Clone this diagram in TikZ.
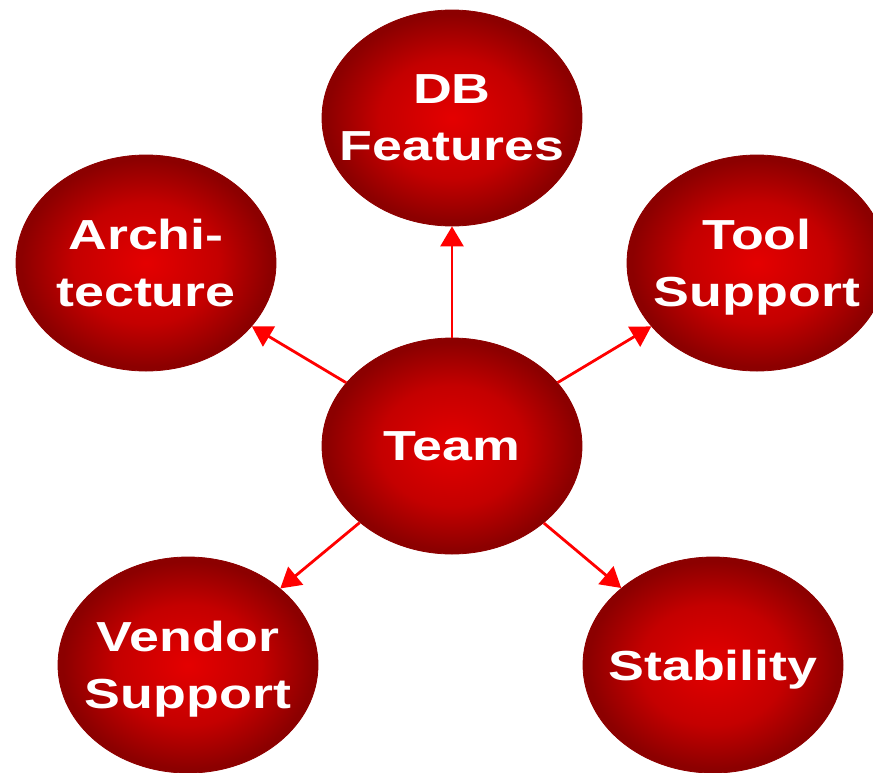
\documentclass[tikz,border=0pt]{standalone}
\usepackage{fontspec}
\setmainfont{Liberation Sans}
\newfontfamily\bubblefont{Liberation Sans}[FakeStretch=1.28]
\usetikzlibrary{shapes.geometric,arrows.meta}

\definecolor{bubblein}{RGB}{228,0,0}
\definecolor{bubblemid}{RGB}{196,0,0}
\definecolor{bubbleout}{RGB}{140,0,0}
\pgfdeclareradialshading{bubbleshade}{\pgfpoint{0bp}{0bp}}{%
  color(0bp)=(bubblein); color(14bp)=(bubblemid);
  color(24bp)=(bubbleout); color(50bp)=(bubbleout)}

\begin{document}
\begin{tikzpicture}[x=1pt,y=-1pt]
\tikzset{
  BubbleStyle/.style = {ellipse, minimum width=260pt, minimum height=216pt,
                        inner sep=0pt, shade, shading=bubbleshade,
                        draw=bubbleout, line width=0.8pt},
  LabelStyle/.style = {text=white, align=center, text depth=0pt, inner sep=0pt,
                       font=\bubblefont\bfseries\fontsize{42}{57}\selectfont},
  EdgeStyle/.style = {-{Triangle[length=20pt,width=23pt]}, red, line width=2.8pt},
}
  \useasboundingbox (0,0) rectangle (873,772);

  % the centre bubble
  \node[BubbleStyle] (team) at (452,446) {};
  \node[LabelStyle] (team-txt) at (team) {Team};

  % the five around it
  \node[BubbleStyle] (db) at (452,118) {};
  \node[LabelStyle] (db-txt) at (db) {DB\\Features};

  \node[BubbleStyle] (arch) at (146,263) {};
  \node[LabelStyle] (arch-txt) at (arch) {Archi-\\tecture};

  \node[BubbleStyle] (tool) at (757,263) {};
  \node[LabelStyle] (tool-txt) at (tool) {Tool\\Support};

  \node[BubbleStyle] (vendor) at (188,665) {};
  \node[LabelStyle] (vendor-txt) at (vendor) {Vendor\\Support};

  \node[BubbleStyle] (stab) at (713,665) {};
  \node[LabelStyle] (stab-txt) at (stab) {Stability};

  \draw[EdgeStyle] (team) -- (db);
  \draw[EdgeStyle] (team) -- (arch);
  \draw[EdgeStyle] (team) -- (tool);
  \draw[EdgeStyle] (team) -- (vendor);
  \draw[EdgeStyle] (team) -- (stab);

\end{tikzpicture}
\end{document}
